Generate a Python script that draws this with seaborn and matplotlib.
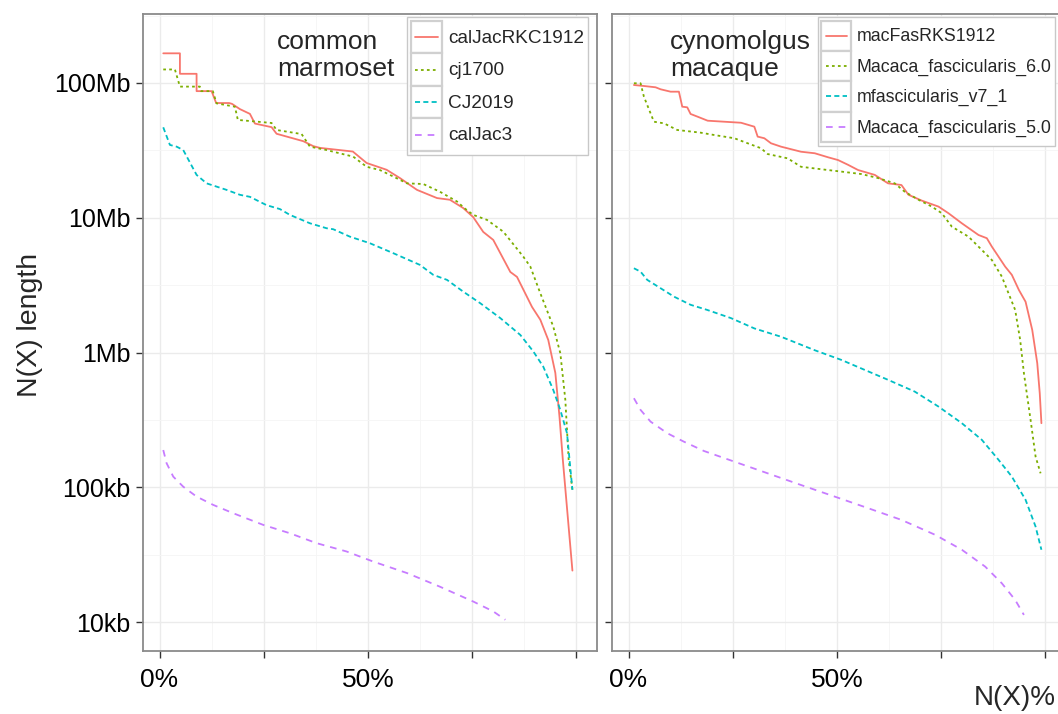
import matplotlib
matplotlib.use('Agg')
import matplotlib.pyplot as plt
import pandas as pd
import seaborn as sns
from matplotlib.legend_handler import HandlerBase
from matplotlib.lines import Line2D
from matplotlib.patches import Rectangle
from matplotlib.ticker import FixedLocator, NullFormatter

# ---- data: N(X)% and N(X) length in Mb ----
# common marmoset
rkc1912_x = [0.9, 4.9, 4.9, 8.9, 8.9, 12.5, 13.6, 16.7, 17.4, 19.3, 21.7, 22.9, 26.9, 28.1, 34.5, 36.9,
             38.5, 46.4, 49.7, 54.5, 57.7, 61.8, 66.6, 69.7, 72.9, 75.3, 77.7, 80.1, 84.2, 85.8, 89.4,
             91.4, 93.3, 95.0, 96.0, 96.8, 99.1]
rkc1912_mb = [166, 166, 117, 117, 87, 87, 71, 71, 70, 64, 59, 50, 47, 42, 37, 34,
              33, 31, 25.5, 22.7, 19.7, 16.1, 14.0, 13.6, 11.8, 10.1, 7.85, 6.85, 3.96, 3.64, 2.18,
              1.75, 1.24, 0.706, 0.333, 0.160, 0.0241]

cj1700_x = [0.9, 3.7, 4.9, 9.7, 10.0, 12.8, 13.7, 18.1, 18.8, 26.9, 28.1, 34.1, 36.1, 40.1, 46.5,
            49.7, 52.9, 55.3, 59.4, 63.3, 67.3, 71.4, 73.3, 75.3, 78.6, 82.5, 87.3, 89.0, 91.4, 94.5,
            96.2, 97.4, 98.2, 99.1]
cj1700_mb = [126, 126, 94, 94, 87, 87, 70.6, 66.7, 53.2, 50.5, 44.8, 41.8, 33.7, 31.8, 28.4,
             23.9, 22.6, 20.8, 18.0, 17.8, 15.6, 13.2, 11.7, 10.5, 9.64, 7.89, 5.15, 4.34, 2.75, 1.56,
             0.988, 0.445, 0.160, 0.0958]

cj2019_x = [0.9, 2.5, 4.1, 5.7, 8.9, 11.3, 16.1, 19.3, 21.7, 25.7, 28.9, 31.3, 36.1, 40.1, 41.7,
            45.7, 50.5, 56.1, 62.5, 65.7, 69.0, 72.9, 77.0, 81.8, 86.6, 89.7, 92.1, 94.5, 96.2, 97.8,
            99.1]
cj2019_mb = [46.9, 34.7, 33.7, 31.8, 20.8, 18.0, 16.1, 14.8, 14.3, 12.4, 11.6, 10.5, 9.1, 8.36, 8.22,
             7.24, 6.47, 5.46, 4.47, 3.77, 3.46, 2.83, 2.32, 1.80, 1.35, 1.02, 0.786, 0.528, 0.375, 0.252,
             0.0958]

caljac3_x = [0.9, 1.7, 3.3, 5.7, 8.9, 12.9, 17.7, 24.9, 31.3, 37.7, 44.9, 51.3, 59.4, 67.3, 75.3,
             80.1, 83.0]
caljac3_mb = [0.189, 0.151, 0.120, 0.101, 0.0853, 0.0740, 0.0642, 0.0526, 0.0456, 0.0385, 0.0334,
              0.0281, 0.0231, 0.0183, 0.0142, 0.0120, 0.0104]

# cynomolgus macaque
rks1912_x = [1.3, 3.7, 6.5, 7.7, 10.1, 12.1, 12.9, 14.1, 14.9, 16.6, 19.0, 27.0, 30.2, 31.0, 32.6,
             34.2, 36.6, 41.4, 44.7, 47.9, 50.3, 52.7, 55.1, 59.1, 62.3, 65.5, 67.2, 70.4, 74.4, 76.8,
             80.0, 84.0, 86.0, 87.2, 90.4, 92.0, 93.7, 95.3, 96.9, 98.1, 98.7, 99.1]
rks1912_mb = [96.6, 95.0, 92.9, 89.8, 86.2, 86.2, 66.7, 66.0, 58.9, 56.2, 52.5, 50.7, 47.4, 40.0, 38.9,
              35.7, 33.7, 30.9, 30.1, 28.1, 26.8, 24.7, 22.6, 20.8, 18.0, 17.5, 14.8, 13.4, 12.1, 10.8,
              9.1, 7.45, 7.05, 6.11, 4.34, 3.77, 2.91, 2.38, 1.47, 0.834, 0.499, 0.299]

mf60_x = [1.3, 2.9, 3.7, 6.1, 8.5, 11.7, 17.3, 20.6, 25.4, 28.6, 31.8, 33.4, 38.2, 41.4, 46.3,
          51.1, 55.9, 59.9, 63.9, 66.3, 69.6, 72.8, 75.2, 77.6, 81.6, 84.8, 87.2, 89.6, 92.8, 94.0,
          94.9, 96.5, 97.7, 98.9]
mf60_mb = [99.5, 99.5, 79.1, 51.6, 50.2, 44.8, 42.8, 41.1, 38.9, 35.7, 32.8, 29.7, 27.6, 23.9, 22.9,
           22.0, 21.1, 19.7, 18.0, 15.6, 13.6, 12.1, 10.8, 8.59, 7.24, 5.77, 4.86, 3.66, 2.07, 1.24,
           0.702, 0.316, 0.169, 0.127]

mfv71_x = [1.3, 2.9, 4.5, 7.7, 10.9, 14.9, 18.9, 24.6, 30.2, 36.6, 44.7, 51.1, 56.7, 62.3, 68.7,
           74.4, 80.0, 84.8, 88.8, 92.0, 95.3, 97.7, 99.1]
mfv71_mb = [4.22, 3.98, 3.46, 3.00, 2.60, 2.26, 2.07, 1.80, 1.51, 1.31, 1.04, 0.881, 0.743, 0.627, 0.513,
            0.397, 0.299, 0.225, 0.160, 0.120, 0.0807, 0.0511, 0.0344]

mf50_x = [1.3, 2.9, 5.3, 9.3, 13.3, 18.1, 25.4, 33.4, 41.4, 49.5, 57.5, 65.5, 73.6, 80.0, 85.6,
          89.6, 92.8, 94.9]
mf50_mb = [0.458, 0.375, 0.307, 0.252, 0.218, 0.186, 0.155, 0.127, 0.104, 0.0853, 0.0700, 0.0573,
           0.0444, 0.0344, 0.0258, 0.0194, 0.0146, 0.0113]

marmoset_names = ['calJacRKC1912', 'cj1700', 'CJ2019', 'calJac3']
macaque_names = ['macFasRKS1912', 'Macaca_fascicularis_6.0', 'mfascicularis_v7_1', 'Macaca_fascicularis_5.0']
panel_titles = ['common\nmarmoset', 'cynomolgus\nmacaque']

y_ticks = [1e4, 1e5, 1e6, 1e7, 1e8]
y_tick_labels = ['10kb', '100kb', '1Mb', '10Mb', '100Mb']
x_ticks = [0, 25, 50, 75, 100]
x_tick_labels = ['0%', '', '50%', '', '']

COLORS = ['#F8766D', '#7CAE00', '#00BFC4', '#C77CFF']
DASHES = ['', (1.5, 1.8), (2.8, 1.8), (3.7, 3.3)]


def long_df(names, xs, ys):
    frames = []
    for name, x, y in zip(names, xs, ys):
        frames.append(pd.DataFrame({'pct': x, 'length': [v * 1e6 for v in y], 'assembly': name}))
    return pd.concat(frames, ignore_index=True)


# legend key with the grey ggplot style box around the line
class BoxedKey(HandlerBase):
    def create_artists(self, legend, orig_handle, xdescent, ydescent, width, height, fontsize, trans):
        box = Rectangle((-xdescent, -ydescent), width, height, facecolor='white',
                        edgecolor='#d0d0d0', lw=1.6, transform=trans)
        y = -ydescent + height / 2
        pad = width * 0.15
        line = Line2D([-xdescent + pad, -xdescent + width - pad], [y, y])
        self.update_prop(line, orig_handle, legend)
        line.set_transform(trans)
        return [box, line]


sns.set_style('white')
plt.rcParams['font.family'] = ['Liberation Sans', 'DejaVu Sans']

W, H = 1058, 714
fig = plt.figure(figsize=(W / 100, H / 100), dpi=100)
ax_l = fig.add_axes([143 / W, 1 - 651 / H, 454 / W, 637 / H])
ax_r = fig.add_axes([612 / W, 1 - 651 / H, 454 / W, 637 / H])

panels = [
    (ax_l, long_df(marmoset_names, [rkc1912_x, cj1700_x, cj2019_x, caljac3_x],
                   [rkc1912_mb, cj1700_mb, cj2019_mb, caljac3_mb]), marmoset_names),
    (ax_r, long_df(macaque_names, [rks1912_x, mf60_x, mfv71_x, mf50_x],
                   [rks1912_mb, mf60_mb, mfv71_mb, mf50_mb]), macaque_names),
]

legend_anchor = [(588 / W, 1 - 17 / H), (1055 / W, 1 - 17 / H)]
legend_size = [13.7, 12.8]
title_pos = [(277 / W, 1 - 30 / H), (670 / W, 1 - 30 / H)]

for i, (ax, df, names) in enumerate(panels):
    sns.lineplot(data=df, x='pct', y='length', hue='assembly', style='assembly',
                 hue_order=names, style_order=names,
                 palette=dict(zip(names, COLORS)), dashes=dict(zip(names, DASHES)),
                 estimator=None, sort=False, legend=False, linewidth=1.3, ax=ax)
    ax.set_yscale('log')
    ax.set_ylim(6.1e3, 3.25e8)
    ax.set_xlim(-3.96, 105.0)

    ax.yaxis.set_major_locator(FixedLocator(y_ticks))
    ax.yaxis.set_minor_locator(FixedLocator([10 ** (k + 0.5) for k in range(3, 9)]))
    ax.yaxis.set_minor_formatter(NullFormatter())
    ax.xaxis.set_major_locator(FixedLocator(x_ticks))
    ax.xaxis.set_minor_locator(FixedLocator([12.5, 37.5, 62.5, 87.5]))
    ax.set_xticklabels(x_tick_labels, fontsize=19)
    if i == 0:
        ax.set_yticklabels(y_tick_labels, fontsize=18)
    else:
        ax.set_yticklabels([])

    ax.grid(which='major', color='#ebebeb', lw=1.0)
    ax.grid(which='minor', color='#f5f5f5', lw=0.6)
    ax.set_axisbelow(True)
    ax.tick_params(which='major', direction='out', length=5, width=1, color='#333333',
                   labelcolor='black', left=True, bottom=True, pad=4)
    ax.tick_params(axis='x', pad=7)
    ax.tick_params(which='minor', length=0)
    for sp in ax.spines.values():
        sp.set_color('#8a8a8a')
        sp.set_linewidth(1.3)
    ax.set_xlabel('')
    ax.set_ylabel('')

    handles = [Line2D([], [], color=c, lw=1.3, linestyle='-' if d == '' else (0, d))
               for c, d in zip(COLORS, DASHES)]
    leg = ax.legend(handles, names, loc='upper right', bbox_to_anchor=legend_anchor[i],
                    bbox_transform=fig.transFigure, borderaxespad=0, fontsize=legend_size[i],
                    handler_map={Line2D: BoxedKey()}, handlelength=1.68, handleheight=2.25,
                    labelspacing=0, handletextpad=0.3, borderpad=0.2, fancybox=False,
                    framealpha=1, edgecolor='#c8c8c8')
    leg.get_frame().set_linewidth(1.0)

    fig.text(title_pos[i][0], title_pos[i][1], panel_titles[i], fontsize=19,
             ha='left', va='top', linespacing=1.15)

fig.text(30 / W, 1 - 325 / H, 'N(X) length', rotation=90, fontsize=20.5, ha='center', va='center')
fig.text(1056 / W, 1 - 698 / H, 'N(X)%', fontsize=20, ha='right', va='center')

fig.savefig('out.png', dpi=100)
